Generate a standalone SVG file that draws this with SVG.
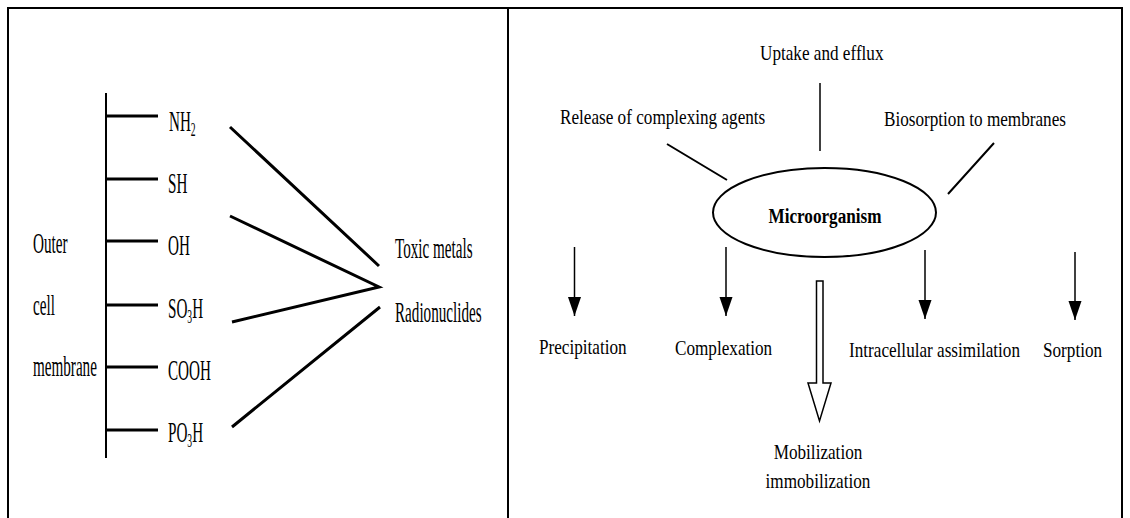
<svg xmlns="http://www.w3.org/2000/svg" width="1130" height="518" viewBox="0 0 1130 518">
<style>
.t{font-family:"Liberation Serif","Times New Roman",serif;fill:#000}
.L{font-size:30px}
.R{font-size:22px}
.sub{font-size:19px}
.b{font-weight:bold}
.ln{stroke:#000;fill:none;stroke-linecap:butt}
.thick{stroke-width:3}
.thin{stroke-width:1.5}
</style>
<defs>
<marker id="ah" markerUnits="userSpaceOnUse" markerWidth="20" markerHeight="14" refX="19" refY="6.5" orient="auto" viewBox="0 0 20 13">
<path d="M0,0 L19,6.5 L0,13 Z" fill="#000"/>
</marker>
</defs>
<rect width="1130" height="518" fill="#fff"/>
<g id="frame">
<path class="ln" stroke-width="2" d="M8,518 V8 H1122 V518 M508,8 V518"/>
</g>
<g id="connectors">
<path class="ln" stroke-width="2" d="M106,93 V458"/>
<path class="ln thick" d="M106,116 H158 M106,179 H158 M106,241 H158 M106,305 H158 M106,367 H158 M106,430 H158"/>
<path class="ln thick" d="M230,127 L379,266 M230,216 L379,287 L232,322 M232,427 L380,307"/>
<path class="ln thin" d="M820,83 V151"/>
<path class="ln" stroke-width="2" d="M667,144 L727,180 M994,143 L948,194"/>
<line class="ln thin" x1="574.5" y1="247" x2="574.5" y2="316" marker-end="url(#ah)"/>
<line class="ln thin" x1="726" y1="247" x2="726" y2="316" marker-end="url(#ah)"/>
<line class="ln thin" x1="925" y1="250" x2="925" y2="319" marker-end="url(#ah)"/>
<line class="ln thin" x1="1075" y1="252" x2="1075" y2="320" marker-end="url(#ah)"/>
<path id="hollow-arrow" d="M816.5,281 H823 V383 H831 L819.5,421 L808,383 H816.5 Z" fill="#fff" stroke="#000" stroke-width="1.5" stroke-linejoin="miter"/>
</g>
<g id="outer-cell-membrane">
<text class="t L" transform="translate(33,253) scale(0.505,1)">Outer</text>
<text class="t L" transform="translate(33,315) scale(0.505,1)">cell</text>
<text class="t L" transform="translate(33,376) scale(0.505,1)">membrane</text>
</g>
<g id="nh2"><text class="t L" transform="translate(169,131) scale(0.505,1)">NH<tspan class="sub" dy="5">2</tspan></text></g>
<g id="sh"><text class="t L" transform="translate(168,193) scale(0.505,1)">SH</text></g>
<g id="oh"><text class="t L" transform="translate(168,255) scale(0.505,1)">OH</text></g>
<g id="so3h"><text class="t L" transform="translate(168,318) scale(0.505,1)">SO<tspan class="sub" dy="5">3</tspan><tspan dy="-5">H</tspan></text></g>
<g id="cooh"><text class="t L" transform="translate(168,380) scale(0.505,1)">COOH</text></g>
<g id="po3h"><text class="t L" transform="translate(168,442) scale(0.505,1)">PO<tspan class="sub" dy="5">3</tspan><tspan dy="-5">H</tspan></text></g>
<g id="toxic-metals"><text class="t L" transform="translate(395,258) scale(0.505,1)">Toxic metals</text></g>
<g id="radionuclides"><text class="t L" transform="translate(395,322) scale(0.505,1)">Radionuclides</text></g>
<g id="uptake"><text class="t R" transform="translate(760,60) scale(0.78,1)">Uptake and efflux</text></g>
<g id="release"><text class="t R" transform="translate(560,124) scale(0.78,1)">Release of complexing agents</text></g>
<g id="biosorption"><text class="t R" transform="translate(884,126) scale(0.78,1)">Biosorption to membranes</text></g>
<g id="microorganism">
<ellipse cx="824.5" cy="212.5" rx="111.5" ry="44.5" fill="none" stroke="#000" stroke-width="2"/>
<text class="t R b" text-anchor="middle" transform="translate(825,223) scale(0.78,1)">Microorganism</text>
</g>
<g id="precipitation"><text class="t R" transform="translate(539,354) scale(0.78,1)">Precipitation</text></g>
<g id="complexation"><text class="t R" transform="translate(675,355) scale(0.78,1)">Complexation</text></g>
<g id="intracellular"><text class="t R" transform="translate(849,357) scale(0.78,1)">Intracellular assimilation</text></g>
<g id="sorption"><text class="t R" transform="translate(1043,357) scale(0.78,1)">Sorption</text></g>
<g id="mobilization">
<text class="t R" text-anchor="middle" transform="translate(818,459) scale(0.78,1)">Mobilization</text>
<text class="t R" text-anchor="middle" transform="translate(818,488) scale(0.78,1)">immobilization</text>
</g>
</svg>
